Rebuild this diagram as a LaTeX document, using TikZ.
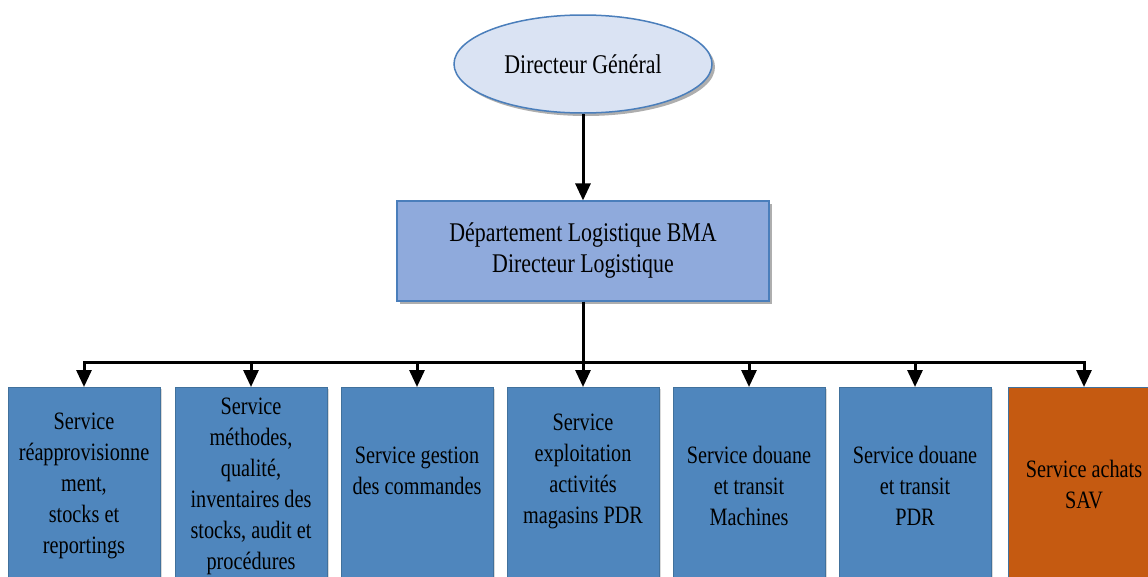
\documentclass[tikz,border=0pt]{standalone}
\usepackage{fontspec}
\setmainfont{Liberation Serif}[FakeStretch=0.81]
\usetikzlibrary{shapes.geometric,arrows.meta,shadows}

\definecolor{dgfill}{RGB}{218,227,243}
\definecolor{dlfill}{RGB}{143,170,220}
\definecolor{svfill}{RGB}{79,134,189}
\definecolor{sorange}{RGB}{197,90,17}
\definecolor{edgeblue}{RGB}{74,126,187}
\definecolor{boxedge}{RGB}{65,113,156}

\tikzset{
  dgnode/.style={ellipse, draw=edgeblue, line width=1.5pt, fill=dgfill,
    minimum width=258pt, minimum height=98pt, inner sep=0pt,
    font=\fontsize{27}{31}\selectfont,
    drop shadow={shadow xshift=3pt, shadow yshift=-3pt, opacity=0.45, fill=black!70}},
  dlnode/.style={rectangle, draw=edgeblue, line width=1.2pt, fill=dlfill,
    minimum width=372pt, minimum height=100pt, inner sep=0pt, align=center,
    font=\fontsize{27}{31}\selectfont,
    drop shadow={shadow xshift=3pt, shadow yshift=-3pt, opacity=0.45, fill=black!70}},
  svbox/.style={rectangle, draw=boxedge, line width=0.8pt, fill=svfill,
    minimum width=152pt, minimum height=230pt, inner sep=0pt, anchor=north,
    drop shadow={shadow xshift=2pt, shadow yshift=-2pt, opacity=0.25, fill=black!60}},
  svtext/.style={align=center, inner sep=0pt, text=black,
    font=\fontsize{25}{31}\selectfont},
  conn/.style={line width=3pt, black},
  arrowconn/.style={conn, -{Triangle[width=15pt,length=17pt]}},
}

\begin{document}
\begin{tikzpicture}[x=1pt,y=-1pt]
\useasboundingbox (0,0) rectangle (1148,576);
\clip (0,0) rectangle (1148,576);

% top of the hierarchy
\node[dgnode] (dg) at (583,64) {Directeur Général};
\node[dlnode] (dl) at (583,251) {Département Logistique BMA\\Directeur Logistique};

% service boxes
\node[svbox] (s1) at (84,387) {};
\node[svbox] (s2) at (251,387) {};
\node[svbox] (s3) at (417,387) {};
\node[svbox] (s4) at (583,387) {};
\node[svbox] (s5) at (749,387) {};
\node[svbox] (s6) at (915,387) {};
\node[svbox, fill=sorange] (s7) at (1084,387) {};

% service labels
\node[svtext] (t1) at (84,486) {Service\\réapprovisionne\\ment,\\stocks et\\reportings};
\node[svtext] (t2) at (251,486) {Service\\méthodes,\\qualité,\\inventaires des\\stocks, audit et\\procédures};
\node[svtext] (t3) at (417,471) {Service gestion\\des commandes};
\node[svtext] (t4) at (583,471) {Service\\exploitation\\activités\\magasins PDR};
\node[svtext] (t5) at (749,486) {Service douane\\et transit\\Machines};
\node[svtext] (t6) at (915,486) {Service douane\\et transit\\PDR};
\node[svtext] (t7) at (1084,485) {Service achats\\SAV};

% connectors
\draw[arrowconn] (dg.south) -- (dl.north);
\coordinate (bus) at (583,362);
\draw[conn] (dl.south) -- (bus);
\foreach \b in {s1,s2,s3,s4,s5,s6,s7}
  \draw[arrowconn] (bus) -| (\b.north);
\end{tikzpicture}
\end{document}
